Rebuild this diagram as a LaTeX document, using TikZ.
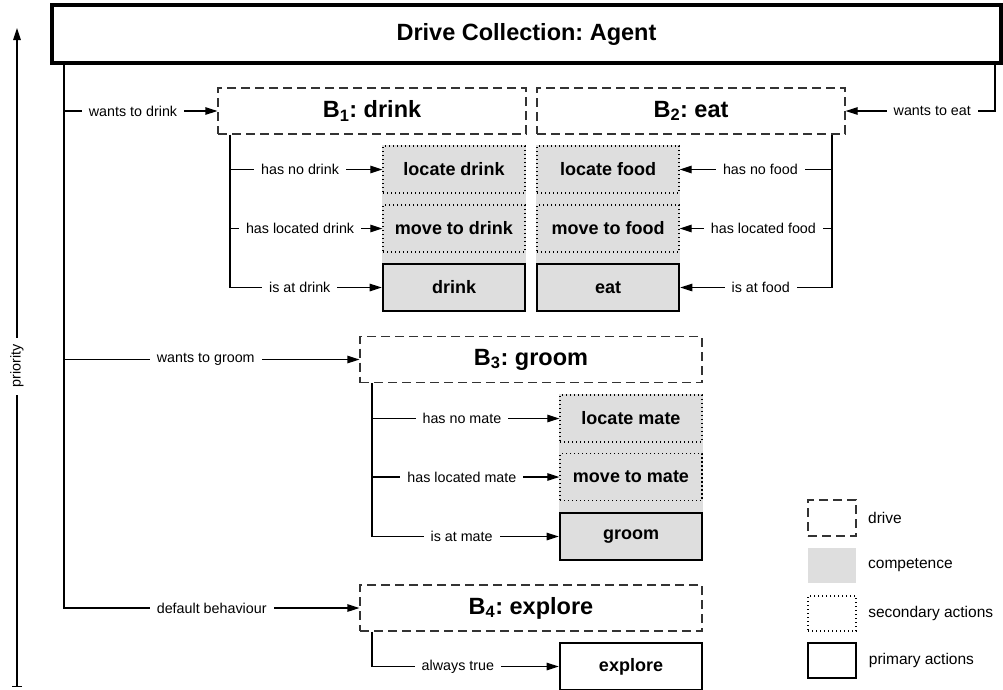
\documentclass[tikz,border=0pt]{standalone}
\usepackage{fontspec}
\setmainfont{Liberation Sans}
\usepackage{tikz}
\usetikzlibrary{arrows.meta,positioning,calc,fit,backgrounds}
\definecolor{compgray}{gray}{0.87}
\frenchspacing
\tikzset{
	drive diagram/.style={
		x=1pt, y=-1pt,
		line width=1.2pt,
		ar/.style={-{Triangle[length=12pt,width=7.5pt]}},
		cond/.style={fill=white, inner xsep=7pt, inner ysep=1pt,
			font=\fontsize{14.3}{16}\selectfont},
		},
	agentbox/.style={draw, line width=3.6pt, minimum width=949, minimum height=58,
		font=\fontsize{23.5}{26}\selectfont\bfseries},
	drive/.style={draw=black!80, dash pattern=on 9pt off 5pt,
		minimum height=46, font=\fontsize{23.5}{26}\selectfont\bfseries},
	act/.style={minimum width=142, minimum height=47,
		font=\fontsize{18}{20}\selectfont\bfseries},
	secondary/.style={act, draw, line width=1.3pt, dash pattern=on 1.3pt off 2.7pt},
	primary/.style={act, draw, line width=2.6pt},
	competence/.style={fill=compgray, inner sep=0pt},
	legtext/.style={inner sep=0pt, font=\fontsize{15.5}{18}\selectfont},
}

\begin{document}
\begin{tikzpicture}[drive diagram]
   \useasboundingbox (0,0) rectangle (1003,689);
   \node[agentbox] (agent) at (526.5,34) {Drive Collection: Agent};
   % drives
   \node[drive, minimum width=308] (bdrink) at (372,111) {B\textsubscript{1}: drink};
   \node[drive, minimum width=308] (beat) at (691,111) {B\textsubscript{2}: eat};
   \node[drive, minimum width=342] (bgroom) at (531,359.5) {B\textsubscript{3}: groom};
   \node[drive, minimum width=342] (bexplore) at (531,608) {B\textsubscript{4}: explore};
   % actions
   \node[secondary] (locdrink) at (454,169.5) {locate drink};
   \node[secondary] (movdrink) at (454,228.5) {move to drink};
   \node[primary] (drink) at (454,287.5) {drink};
   \node[secondary] (locfood) at (608,169.5) {locate food};
   \node[secondary] (movfood) at (608,228.5) {move to food};
   \node[primary] (eat) at (608,287.5) {eat};
   \node[secondary] (locmate) at (631,418.5) {locate mate};
   \node[secondary] (movmate) at (631,477) {move to mate};
   \node[primary] (groom) at (631,536.5) {groom};
   \node[primary] (explore) at (631,666.5) {explore};
   \begin{scope}[on background layer]
      \node[competence, fit=(locdrink) (drink)] {};
      \node[competence, fit=(locfood) (eat)] {};
      \node[competence, fit=(locmate) (groom)] {};
   \end{scope}
   % top level
   \coordinate (k1) at (64,111);
   \coordinate (k2) at (995,111);
   \coordinate (k3) at (64,359.5);
   \coordinate (k4) at (64,608);
   \draw[ar] (agent.south -| k4) -- (k4) -- node[cond] {default behaviour} (bexplore);
   \draw[ar] (k1) -- node[cond, pos=.45] {wants to drink} (bdrink);
   \draw[ar] (k3) -- node[cond, pos=.48] {wants to groom} (bgroom);
   \draw[ar] (agent.south -| k2) -- (k2) -- node[cond, pos=.42] {wants to eat} (beat);
   % drink
   \coordinate (d1) at (230,169.5);
   \coordinate (d2) at (230,228.5);
   \coordinate (d3) at (230,287.5);
   \draw[ar] (bdrink.south -| d3) -- (d3) -- node[cond, pos=.46] {is at drink} (drink);
   \draw[ar] (d1) -- node[cond, pos=.46] {has no drink} (locdrink);
   \draw[ar] (d2) -- node[cond, pos=.46] {has located drink} (movdrink);
   % eat
   \coordinate (e1) at (832,169.5);
   \coordinate (e2) at (832,228.5);
   \coordinate (e3) at (832,287.5);
   \draw[ar] (beat.south -| e3) -- (e3) -- node[cond, pos=.47] {is at food} (eat);
   \draw[ar] (e1) -- node[cond, pos=.47] {has no food} (locfood);
   \draw[ar] (e2) -- node[cond, pos=.45] {has located food} (movfood);
   % groom
   \coordinate (g1) at (372,418.5);
   \coordinate (g2) at (372,477);
   \coordinate (g3) at (372,536.5);
   \draw[ar] (bgroom.south -| g3) -- (g3) -- node[cond, pos=.48] {is at mate} (groom);
   \draw[ar] (g1) -- node[cond, pos=.48] {has no mate} (locmate);
   \draw[ar] (g2) -- node[cond, pos=.48] {has located mate} (movmate);
   % explore
   \coordinate (h1) at (372,666.5);
   \draw[ar] (bexplore.south -| h1) -- (h1) -- node[cond, pos=.46] {always true} (explore);
   % priority
   \draw[{Bar[width=10pt]}-{Triangle[length=12pt,width=7.5pt]}] (17,687)
      -- node[cond, rotate=90, pos=.487] {priority} (17,28);
   % legend
   \node[drive, minimum width=48, minimum height=36] (lgdrive) at (832,518) {};
   \node[competence, minimum width=48, minimum height=35] (lgcomp) at (832,565.5) {};
   \node[secondary, minimum width=48, minimum height=35] (lgsec) at (832,613.5) {};
   \node[primary, minimum width=48, minimum height=35] (lgprim) at (832,660.5) {};
   \node[legtext, right=11pt of lgdrive] {drive};
   \node[legtext, right=11pt of lgcomp] {competence};
   \node[legtext, right=11pt of lgsec] {secondary actions};
   \node[legtext, right=11pt of lgprim] {primary actions};
\end{tikzpicture}
\end{document}
